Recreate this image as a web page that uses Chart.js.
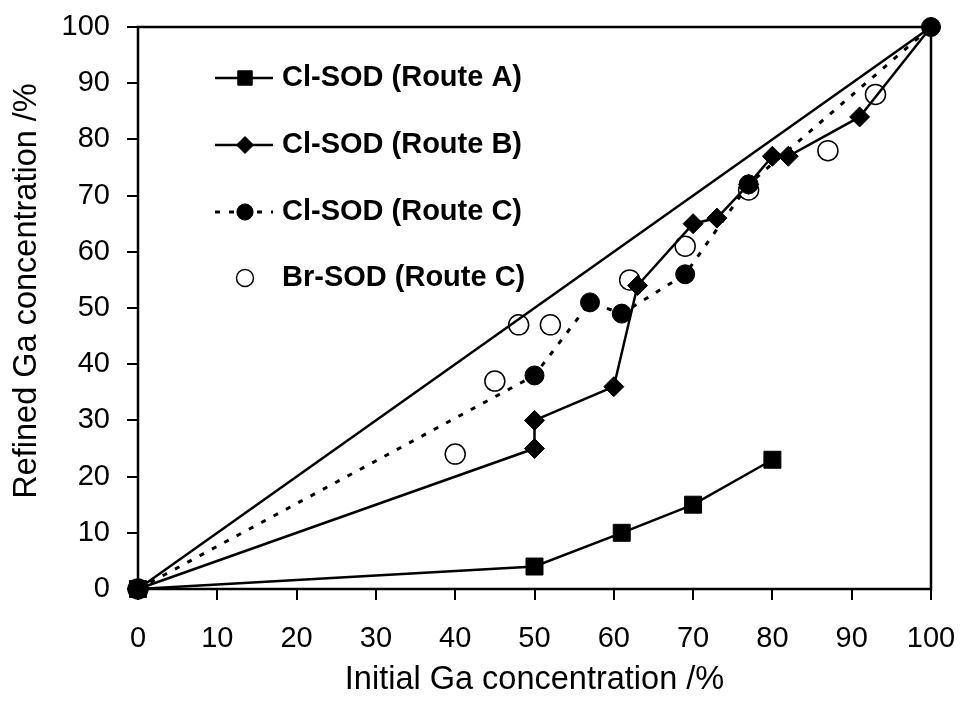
<!DOCTYPE html>
<html>
<head>
<meta charset="utf-8">
<script src="https://cdn.jsdelivr.net/npm/chart.js@4/dist/chart.umd.min.js"></script>
<style>
  html, body { margin: 0; padding: 0; background: #fff; }
  #wrap { width: 962px; height: 705px; }
</style>
</head>
<body>
<div id="wrap"><canvas id="gaChart" width="962" height="705"></canvas></div>
<script>
// Data (x = initial Ga %, y = refined Ga %)
const routeA_x = [0, 50, 61, 70, 80];
const routeA_y = [0, 4, 10, 15, 23];

const routeB_x = [0, 50, 50, 60, 63, 70, 73, 77, 80, 82, 91, 100];
const routeB_y = [0, 25, 30, 36, 54, 65, 66, 72, 77, 77, 84, 100];

const routeC_x = [0, 50, 57, 61, 69, 77, 100];
const routeC_y = [0, 38, 51, 49, 56, 72, 100];

const brC_x = [0, 40, 45, 48, 52, 62, 69, 77, 87, 93];
const brC_y = [0, 24, 37, 47, 47, 55, 61, 71, 78, 88];

const diag_x = [0, 100];
const diag_y = [0, 100];

const seriesLabels = ['Cl-SOD (Route A)', 'Cl-SOD (Route B)', 'Cl-SOD (Route C)', 'Br-SOD (Route C)'];
const xTicks = [0, 10, 20, 30, 40, 50, 60, 70, 80, 90, 100];
const yTicks = [0, 10, 20, 30, 40, 50, 60, 70, 80, 90, 100];
const yTitle = 'Refined Ga concentration /%';

const toPoints = (xs, ys) => xs.map((x, i) => ({ x: x, y: ys[i] }));

const FONT = "'Liberation Sans', Arial, sans-serif";
const TICK_LEN = 11;

// Frame round the plot area plus outward tick marks, and the y title
const framePlugin = {
    id: 'frame',
    beforeDatasetsDraw(chart) {
        const { ctx, chartArea: a, scales } = chart;
        ctx.save();
        ctx.strokeStyle = '#000';
        ctx.lineWidth = 2.5;
        ctx.strokeRect(a.left, a.top, a.right - a.left, a.bottom - a.top);
        ctx.lineWidth = 2;
        ctx.beginPath();
        xTicks.forEach(v => {
            const px = Math.round(scales.x.getPixelForValue(v));
            ctx.moveTo(px, a.bottom);
            ctx.lineTo(px, a.bottom + TICK_LEN);
        });
        yTicks.forEach(v => {
            const py = Math.round(scales.y.getPixelForValue(v));
            ctx.moveTo(a.left - TICK_LEN, py);
            ctx.lineTo(a.left, py);
        });
        ctx.stroke();

        // y axis title, a little above the plot's middle as in the figure
        ctx.translate(27, 291);
        ctx.rotate(-Math.PI / 2);
        ctx.font = '32.5px ' + FONT;
        ctx.fillStyle = '#000';
        ctx.textAlign = 'center';
        ctx.textBaseline = 'middle';
        ctx.fillText(yTitle, 0, 0);
        ctx.restore();
    }
};

// Legend drawn inside the plot, top left
const insideLegend = {
    id: 'insideLegend',
    afterDraw(chart) {
        const ctx = chart.ctx;
        const rows = [78, 145, 212, 278];
        ctx.save();
        ctx.font = 'bold 29px ' + FONT;
        ctx.textBaseline = 'middle';
        for (let i = 0; i < 4; i++) {
            const ds = chart.data.datasets[i];
            const y = rows[i];
            if (ds.showLine !== false) {
                ctx.beginPath();
                ctx.strokeStyle = '#000';
                ctx.lineWidth = ds.borderWidth;
                ctx.setLineDash(ds.borderDash || []);
                ctx.moveTo(215, y);
                ctx.lineTo(273, y);
                ctx.stroke();
                ctx.setLineDash([]);
            }
            ctx.fillStyle = ds.pointBackgroundColor;
            ctx.strokeStyle = '#000';
            ctx.lineWidth = ds.pointBorderWidth || 1;
            Chart.helpers.drawPoint(ctx, {
                pointStyle: ds.pointStyle,
                radius: ds.pointRadius * 0.85,
                rotation: 0,
                borderWidth: ds.pointBorderWidth || 1
            }, 245, y);
            ctx.fillStyle = '#000';
            ctx.fillText(seriesLabels[i], 282, y);
        }
        ctx.restore();
    }
};

const ctx = document.getElementById('gaChart').getContext('2d');
new Chart(ctx, {
    type: 'scatter',
    data: {
        datasets: [
            {
                label: seriesLabels[0],
                data: toPoints(routeA_x, routeA_y),
                showLine: true,
                clip: false,
                borderColor: '#000',
                borderWidth: 2.5,
                pointStyle: 'rect',
                pointRadius: 12,
                pointBackgroundColor: '#000',
                pointBorderColor: '#000',
                pointBorderWidth: 1
            },
            {
                label: seriesLabels[1],
                data: toPoints(routeB_x, routeB_y),
                showLine: true,
                clip: false,
                borderColor: '#000',
                borderWidth: 2.5,
                pointStyle: 'rectRot',
                pointRadius: 10,
                pointBackgroundColor: '#000',
                pointBorderColor: '#000',
                pointBorderWidth: 1
            },
            {
                label: seriesLabels[2],
                data: toPoints(routeC_x, routeC_y),
                showLine: true,
                clip: false,
                borderColor: '#000',
                borderWidth: 3,
                borderDash: [5, 9],
                pointStyle: 'circle',
                pointRadius: 9.5,
                pointBackgroundColor: '#000',
                pointBorderColor: '#000',
                pointBorderWidth: 1
            },
            {
                label: seriesLabels[3],
                data: toPoints(brC_x, brC_y),
                showLine: false,
                clip: false,
                borderColor: '#000',
                borderWidth: 1.5,
                pointStyle: 'circle',
                pointRadius: 10,
                pointBackgroundColor: 'rgba(255,255,255,0)',
                pointBorderColor: '#000',
                pointBorderWidth: 1.5
            },
            {
                label: 'y = x',
                data: toPoints(diag_x, diag_y),
                showLine: true,
                borderColor: '#000',
                borderWidth: 2.5,
                pointRadius: 0
            }
        ]
    },
    options: {
        responsive: false,
        animation: false,
        layout: { padding: { top: 27, right: 31, left: 0, bottom: 0 } },
        plugins: {
            legend: { display: false },
            tooltip: { enabled: false }
        },
        scales: {
            x: {
                type: 'linear',
                min: 0,
                max: 100,
                afterBuildTicks: (s) => { s.ticks = xTicks.map(v => ({ value: v })); },
                afterFit: (s) => { s.height = 116; s.paddingLeft = 0; s.paddingRight = 0; },
                grid: { display: false, drawTicks: false },
                border: { display: false },
                ticks: { color: '#000', font: { family: FONT, size: 29 }, padding: 33, maxRotation: 0 },
                title: {
                    display: true,
                    text: 'Initial Ga concentration /%',
                    color: '#000',
                    font: { family: FONT, size: 32.5 },
                    padding: { top: 4, bottom: 5 }
                }
            },
            y: {
                type: 'linear',
                min: 0,
                max: 100,
                afterBuildTicks: (s) => { s.ticks = yTicks.map(v => ({ value: v })); },
                afterFit: (s) => { s.width = 138; s.paddingTop = 0; s.paddingBottom = 0; },
                grid: { display: false, drawTicks: false },
                border: { display: false },
                ticks: { color: '#000', font: { family: FONT, size: 29 }, padding: 28 },
                title: { display: false }
            }
        }
    },
    plugins: [framePlugin, insideLegend]
});
</script>
</body>
</html>
